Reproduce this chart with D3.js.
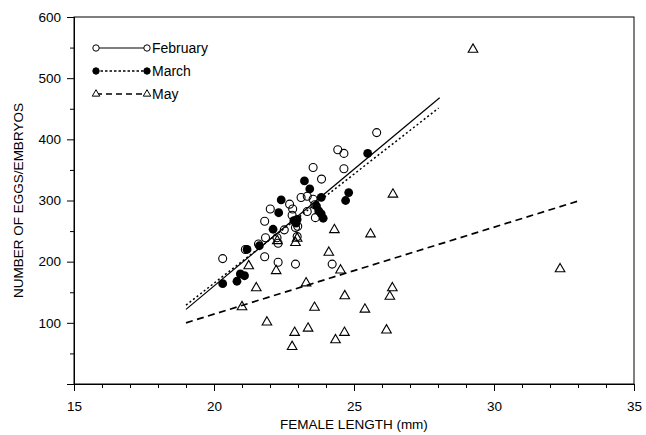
<!DOCTYPE html>
<html>
<head>
<meta charset="utf-8">
<script src="https://cdn.jsdelivr.net/npm/d3@7"></script>
<style>
  body { margin: 0; background: #fff; }
  svg text { font-family: "Liberation Sans", Arial, sans-serif; fill: #000; }
</style>
</head>
<body>
<div id="chart"></div>
<script>
// February (open circles)
var febLength = [20.31, 21.12, 21.59, 21.81, 21.84, 21.81, 22.01, 22.29, 22.29, 22.25, 22.51, 22.70,
  22.81, 22.79, 22.91, 22.91, 22.99, 22.97, 23.11, 23.33, 23.54, 23.33, 23.62, 23.54, 23.84,
  24.42, 24.64, 24.64, 24.22, 25.81, 23.60];
var febEggs = [205, 220, 229, 208, 239, 266, 286, 199, 230, 239, 252, 294,
  286, 276, 196, 256, 258, 241, 305, 307, 302, 282, 272, 354, 335,
  383, 377, 352, 196, 411, 293];

// March (filled circles)
var marLength = [20.31, 20.82, 20.94, 21.09, 21.18, 21.62, 22.11, 22.31, 22.40, 22.85, 22.97, 22.93,
  23.23, 23.42, 23.83, 23.66, 23.74, 23.83, 23.90, 24.81, 24.70, 25.49];
var marEggs = [164, 168, 180, 177, 220, 226, 253, 280, 301, 267, 269, 263,
  332, 319, 305, 291, 283, 278, 271, 313, 300, 377];

// May (open triangles)
var mayLength = [21.0, 21.24, 21.51, 21.89, 22.22, 22.26, 22.91, 22.97, 22.79, 22.88, 23.29, 23.36,
  23.59, 24.10, 24.30, 24.52, 24.34, 24.66, 24.67, 25.39, 25.59, 26.16, 26.28, 26.37, 26.39,
  29.25, 32.36];
var mayEggs = [126, 193, 157, 101, 185, 234, 231, 238, 61, 84, 165, 91,
  125, 215, 252, 186, 72, 84, 144, 122, 245, 88, 143, 157, 310,
  547, 188];

// fitted lines, [x0, x1] and [y0, y1]
var febFitX = [19, 28.06], febFitY = [122, 468];
var marFitX = [19, 28.02], marFitY = [129, 451];
var mayFitX = [19, 33.0], mayFitY = [100, 299];

var xTicks = [15, 20, 25, 30, 35];
var xMinor = [16, 17, 18, 19, 21, 22, 23, 24, 26, 27, 28, 29, 31, 32, 33, 34];
var yTicks = [100, 200, 300, 400, 500, 600];
var yMinor = [50, 150, 250, 350, 450, 550];

var seriesNames = ["February", "March", "May"];

var width = 646, height = 435;
var margin = { t: 17, r: 12, b: 51, l: 74 };

var svg = d3.select("#chart").append("svg")
  .attr("width", width)
  .attr("height", height);

var x = d3.scaleLinear().domain([15, 35]).range([margin.l, width - margin.r]);
var y = d3.scaleLinear().domain([0, 600]).range([height - margin.b, margin.t]);

// frame
svg.append("rect")
  .attr("x", x(15)).attr("y", y(600))
  .attr("width", x(35) - x(15)).attr("height", y(0) - y(600))
  .attr("fill", "none").attr("stroke", "#000").attr("stroke-width", 1);

// axes
svg.append("g")
  .attr("transform", "translate(0," + y(0) + ")")
  .call(d3.axisBottom(x).tickValues(xTicks).tickSize(7).tickPadding(10).tickFormat(d3.format("d")));
svg.append("g")
  .attr("transform", "translate(0," + y(0) + ")")
  .call(d3.axisBottom(x).tickValues(xMinor).tickSize(4).tickFormat(""));
svg.append("g")
  .attr("transform", "translate(" + x(15) + ",0)")
  .call(d3.axisLeft(y).tickValues(yTicks).tickSize(7).tickPadding(6).tickFormat(d3.format("d")));
svg.append("g")
  .attr("transform", "translate(" + x(15) + ",0)")
  .call(d3.axisLeft(y).tickValues(yMinor).tickSize(4).tickFormat(""));

svg.selectAll(".domain").attr("stroke", "#000").attr("stroke-width", 1);
svg.selectAll(".tick line").attr("stroke", "#000");
svg.selectAll(".tick text").style("font-size", "13.5px");

// axis titles
svg.append("text")
  .attr("x", (x(15) + x(35)) / 2).attr("y", 429)
  .attr("text-anchor", "middle")
  .style("font-size", "13.5px")
  .text("FEMALE LENGTH (mm)");
svg.append("text")
  .attr("transform", "translate(23," + (y(0) + y(600)) / 2 + ") rotate(-90)")
  .attr("text-anchor", "middle")
  .style("font-size", "13.5px")
  .text("NUMBER OF EGGS/EMBRYOS");

// fitted lines
var line = d3.line().x(d => x(d[0])).y(d => y(d[1]));
function fitLine(xs, ys, dash, w) {
  svg.append("path")
    .attr("d", line(d3.zip(xs, ys)))
    .attr("fill", "none").attr("stroke", "#000")
    .attr("stroke-width", w)
    .attr("stroke-dasharray", dash);
}
fitLine(febFitX, febFitY, null, 1.2);
fitLine(marFitX, marFitY, "2,2.5", 1.5);
fitLine(mayFitX, mayFitY, "7,4.5", 1.7);

// points
var tri = d3.symbol().type(d3.symbolTriangle).size(40);

svg.append("g").selectAll("path")
  .data(d3.zip(mayLength, mayEggs))
  .enter().append("path")
  .attr("d", tri)
  .attr("transform", d => "translate(" + x(d[0]) + "," + y(d[1]) + ")")
  .attr("fill", "none").attr("stroke", "#000").attr("stroke-width", 1.1);

svg.append("g").selectAll("circle")
  .data(d3.zip(febLength, febEggs))
  .enter().append("circle")
  .attr("cx", d => x(d[0])).attr("cy", d => y(d[1])).attr("r", 4)
  .attr("fill", "none").attr("stroke", "#000").attr("stroke-width", 1.1);

svg.append("g").selectAll("circle")
  .data(d3.zip(marLength, marEggs))
  .enter().append("circle")
  .attr("cx", d => x(d[0])).attr("cy", d => y(d[1])).attr("r", 4.4)
  .attr("fill", "#000");

// legend
var legY = [48, 71, 94];
var legDash = [null, "2.5,2", "6,4"];
var lg = svg.append("g");
seriesNames.forEach((name, i) => {
  lg.append("line")
    .attr("x1", 96).attr("x2", 147)
    .attr("y1", legY[i]).attr("y2", legY[i])
    .attr("stroke", "#000").attr("stroke-width", i == 0 ? 1.2 : 1.5)
    .attr("stroke-dasharray", legDash[i]);
  [96, 147].forEach(px => {
    if (i == 2) {
      lg.append("path").attr("d", d3.symbol().type(d3.symbolTriangle).size(24))
        .attr("transform", "translate(" + px + "," + legY[i] + ")")
        .attr("fill", "#fff").attr("stroke", "#000");
    } else {
      lg.append("circle").attr("cx", px).attr("cy", legY[i]).attr("r", 3.2)
        .attr("fill", i == 0 ? "#fff" : "#000").attr("stroke", "#000");
    }
  });
  lg.append("text")
    .attr("x", 152).attr("y", legY[i] + 5)
    .style("font-size", "14px")
    .text(name);
});
</script>
</body>
</html>
